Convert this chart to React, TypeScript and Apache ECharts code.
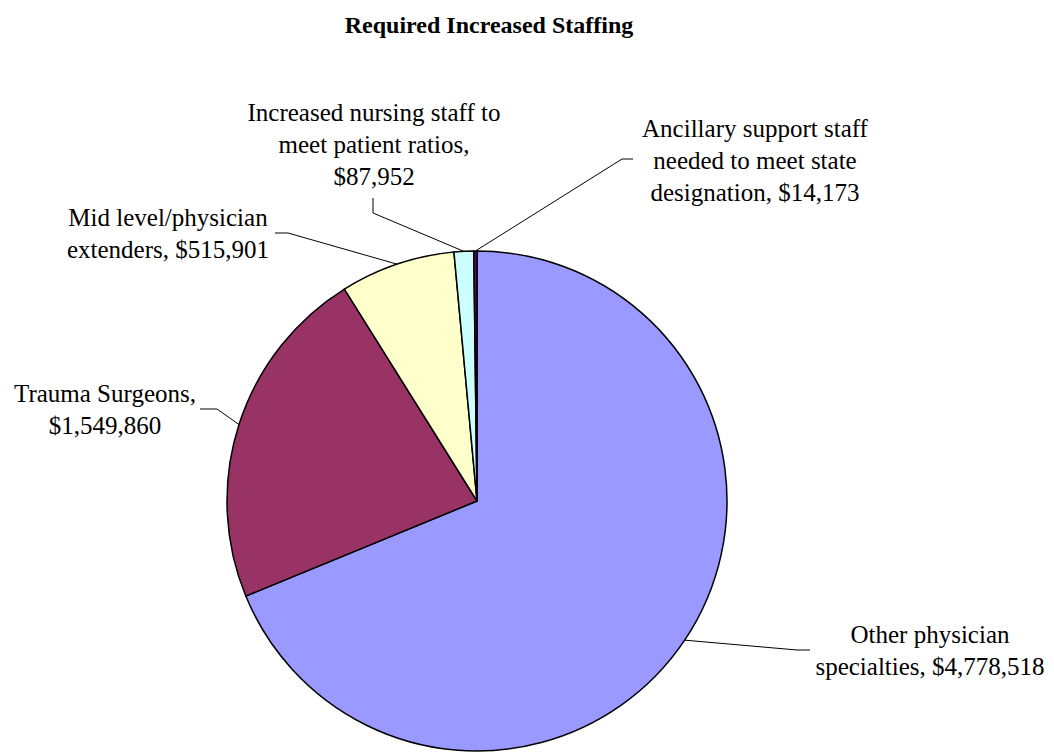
import React, { useEffect, useRef } from "react";
import * as echarts from "echarts";

const categories = [
  "Other physician\nspecialties",
  "Trauma Surgeons",
  "Mid level/physician\nextenders",
  "Increased nursing staff to\nmeet patient ratios",
  "Ancillary support staff\nneeded to meet state\ndesignation",
];
const values = [4778518, 1549860, 515901, 87952, 14173];
const valueSeparators = [" ", "\n", " ", "\n", " "];
const colors = ["#9999FF", "#993366", "#FFFFCC", "#CCFFFF", "#660066"];
const titleText = "Required Increased Staffing";

// label placement: [centerX, centerY, attachX, attachY, elbowX, elbowY]
const labelPlacement = [
  [930, 650, 810, 650, 797, 650],
  [105, 409, 200, 409, 217, 409],
  [168, 233, 275, 233, 288, 233],
  [374, 144, 373, 198, 373, 213],
  [755, 160, 633, 159, 622, 159],
];

const serif = "'Liberation Serif', 'Times New Roman', serif";

export default function App() {
  const ref = useRef<HTMLDivElement>(null);
  useEffect(() => {
    if (!ref.current) return;
    const chart = echarts.init(ref.current, undefined, { renderer: "svg" });
    const fmt = (v: number) => v.toLocaleString("en-US");
    chart.setOption({
      animation: false,
      backgroundColor: "#ffffff",
      textStyle: { fontFamily: serif },
      title: {
        text: titleText,
        left: 484,
        top: 8,
        textAlign: "center",
        textStyle: {
          fontFamily: serif,
          fontWeight: "bold",
          fontSize: 24,
          color: "#000",
        },
      },
      series: [
        {
          type: "pie",
          center: [477, 501],
          radius: 250,
          startAngle: 90,
          clockwise: true,
          avoidLabelOverlap: false,
          itemStyle: { borderColor: "#000", borderWidth: 1.5 },
          label: {
            show: true,
            position: "outside",
            fontFamily: serif,
            fontSize: 25,
            lineHeight: 32,
            color: "#000",
            formatter: (p: any) =>
              `${p.name},${valueSeparators[p.dataIndex]}$${fmt(p.value)}`,
          },
          labelLine: {
            show: true,
            length: 10,
            length2: 10,
            lineStyle: { color: "#000", width: 1 },
          },
          labelLayout: (params: any) => {
            const pl = labelPlacement[params.dataIndex];
            const start = params.labelLinePoints
              ? params.labelLinePoints[0]
              : [pl[4], pl[5]];
            return {
              x: pl[0],
              y: pl[1],
              align: "center",
              verticalAlign: "middle",
              labelLinePoints: [start, [pl[4], pl[5]], [pl[2], pl[3]]],
            };
          },
          emphasis: { disabled: true },
          data: categories.map((name, i) => ({
            name,
            value: values[i],
            itemStyle: { color: colors[i] },
          })),
        },
      ],
    });
    return () => chart.dispose();
  }, []);
  return (
    <div
      ref={ref}
      style={{ position: "fixed", left: 0, top: 0, width: 1054, height: 755 }}
    />
  );
}
